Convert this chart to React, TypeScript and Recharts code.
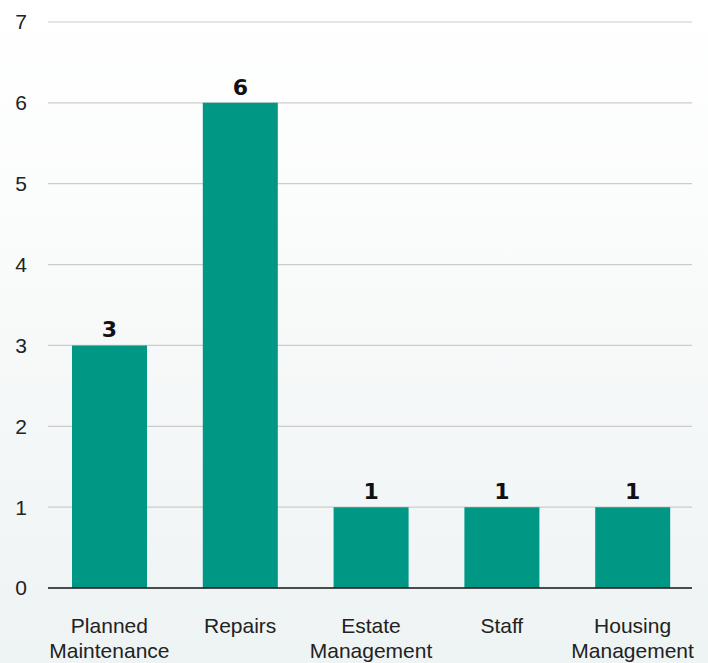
import React from 'react';
import { BarChart, Bar, XAxis, YAxis, CartesianGrid, LabelList, ReferenceLine } from 'recharts';

const categories = ['Planned Maintenance', 'Repairs', 'Estate Management', 'Staff', 'Housing Management'];
const counts = [3, 6, 1, 1, 1];
const yTicks = [0, 1, 2, 3, 4, 5, 6, 7];

const data = categories.map((name, i) => ({ name, value: counts[i] }));

const FONT = '"Liberation Sans", Arial, sans-serif';

// splits two-word labels over two lines
const CategoryTick = (props: any) => {
    const { x, y, payload } = props;
    const words: string[] = String(payload.value).split(' ');
    return (
        <text x={x} y={y} textAnchor="middle" fill="#222" fontSize={21} fontFamily={FONT}>
            {words.map((w, i) => (
                <tspan key={i} x={x} dy={i === 0 ? 37 : 25}>{w}</tspan>
            ))}
        </text>
    );
};

export default function App() {
    return (
        <div style={{ width: 708, height: 663, background: 'linear-gradient(to bottom, #ffffff 0%, #fbfcfc 30%, #eef3f3 100%)' }}>
            <style>{`body{margin:0}`}</style>
            <BarChart width={708} height={663} data={data} margin={{ top: 22, right: 16, left: 0, bottom: 0 }}>
                <CartesianGrid vertical={false} stroke="#cccccc" strokeWidth={1.2} />
                <XAxis
                    dataKey="name"
                    height={75}
                    axisLine={false}
                    tickLine={false}
                    interval={0}
                    padding={{ left: -4, right: -6 }}
                    tick={<CategoryTick />}
                />
                <YAxis
                    width={48}
                    domain={[0, 7]}
                    ticks={yTicks}
                    axisLine={false}
                    tickLine={false}
                    tickSize={0}
                    tickMargin={21}
                    tick={{ fontSize: 21, fill: '#222', fontFamily: FONT }}
                />
                <ReferenceLine y={0} stroke="#1a1a1a" strokeWidth={1.6} />
                <Bar dataKey="value" fill="#009785" barSize={75} isAnimationActive={false}>
                    <LabelList
                        dataKey="value"
                        position="top"
                        offset={8}
                        style={{ fontSize: 22, fontWeight: 'bold', fill: '#111', fontFamily: '"DejaVu Sans", sans-serif' }}
                    />
                </Bar>
            </BarChart>
        </div>
    );
}
